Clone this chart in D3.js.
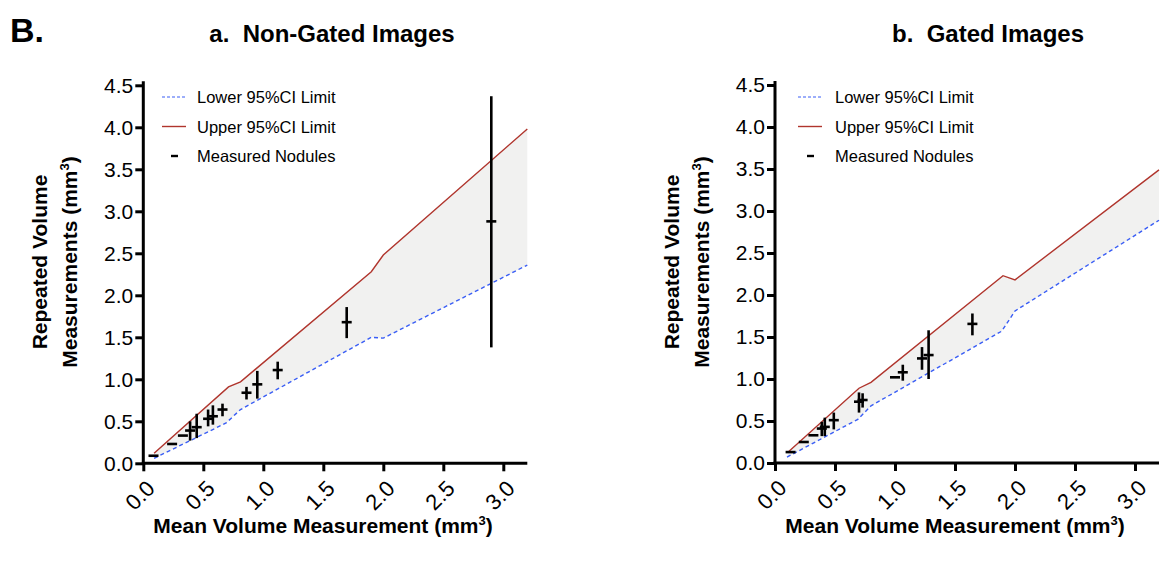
<!DOCTYPE html>
<html>
<head>
<meta charset="utf-8">
<script src="https://cdn.jsdelivr.net/npm/d3@7/dist/d3.min.js"></script>
<style>
  html, body { margin: 0; padding: 0; background: #fff; }
  svg { display: block; }
  text { font-family: "Liberation Sans", Arial, Helvetica, sans-serif; fill: #000; }
</style>
</head>
<body>
<svg id="chart" width="1166" height="561"></svg>
<script>
// ---------- DATA ----------
const xTicks = [0, 0.5, 1.0, 1.5, 2.0, 2.5, 3.0];
const yTicks = [0, 0.5, 1.0, 1.5, 2.0, 2.5, 3.0, 3.5, 4.0, 4.5];

const titleA = "a.  Non-Gated Images";
const titleB = "b.  Gated Images";
const legendLabels = ["Lower 95%CI Limit", "Upper 95%CI Limit", "Measured Nodules"];

// Non-gated: CI limit curves [mean, value]
const upperA = [[0.09, 0.12], [0.71, 0.91], [0.81, 0.97], [1.90, 2.28], [2.00, 2.48], [3.20, 3.98]];
const lowerA = [[0.09, 0.06], [0.69, 0.48], [0.81, 0.64], [1.90, 1.50], [2.00, 1.49], [3.20, 2.36]];
// Non-gated nodules: [mean, repeated value, low, high]
const nodulesA = [
  [0.085, 0.09, 0.09, 0.09],
  [0.24, 0.23, 0.23, 0.23],
  [0.33, 0.33, 0.33, 0.33],
  [0.39, 0.39, 0.27, 0.50],
  [0.445, 0.43, 0.30, 0.59],
  [0.54, 0.53, 0.44, 0.64],
  [0.58, 0.56, 0.46, 0.69],
  [0.66, 0.64, 0.56, 0.71],
  [0.86, 0.84, 0.76, 0.91],
  [0.95, 0.94, 0.77, 1.10],
  [1.12, 1.11, 1.00, 1.21],
  [1.695, 1.68, 1.49, 1.86],
  [2.90, 2.88, 1.38, 4.37]
];

// Gated
const upperB = [[0.11, 0.13], [0.70, 0.89], [0.80, 0.96], [1.90, 2.23], [2.00, 2.18], [3.20, 3.49]];
const lowerB = [[0.10, 0.07], [0.69, 0.52], [0.80, 0.68], [1.89, 1.57], [2.00, 1.81], [3.20, 2.89]];
const nodulesB = [
  [0.13, 0.13, 0.13, 0.13],
  [0.24, 0.25, 0.25, 0.25],
  [0.32, 0.33, 0.33, 0.33],
  [0.39, 0.41, 0.32, 0.49],
  [0.415, 0.43, 0.32, 0.54],
  [0.49, 0.51, 0.40, 0.60],
  [0.70, 0.73, 0.60, 0.84],
  [0.73, 0.75, 0.66, 0.83],
  [1.00, 1.02, 1.02, 1.02],
  [1.065, 1.08, 0.98, 1.17],
  [1.225, 1.245, 1.11, 1.38],
  [1.28, 1.285, 1.00, 1.58],
  [1.645, 1.656, 1.52, 1.78]
];

// ---------- DRAW ----------
const svg = d3.select("#chart");
const fmt = d3.format(".1f");
const upperColor = "#b0352d";
const lowerColor = "#3a5ef5";
const bandColor = "#f1f1f0";

svg.append("text")
  .attr("x", 10).attr("y", 42)
  .attr("font-size", 34).attr("font-weight", "bold")
  .text("B.");

function panel(cfg) {
  const x = d3.scaleLinear().domain([0, 3.2]).range([cfg.x0, cfg.x0 + 384]);
  const y = d3.scaleLinear().domain([0, 4.5]).range([cfg.y0, cfg.y0 - 378]);
  const g = svg.append("g");

  // title
  g.append("text")
    .attr("x", cfg.titleX).attr("y", 42)
    .attr("text-anchor", "middle")
    .attr("font-size", 24).attr("font-weight", "bold")
    .style("white-space", "pre")
    .text(cfg.title);

  // band
  const line = d3.line().x(d => x(d[0])).y(d => y(d[1]));
  const poly = cfg.upper.concat(cfg.lower.slice().reverse());
  g.append("path")
    .attr("d", line(poly) + "Z")
    .attr("fill", bandColor).attr("stroke", "none");

  // CI lines
  g.append("path").attr("d", line(cfg.lower))
    .attr("fill", "none").attr("stroke", lowerColor)
    .attr("stroke-width", 1.4).attr("stroke-dasharray", "4,3");
  g.append("path").attr("d", line(cfg.upper))
    .attr("fill", "none").attr("stroke", upperColor)
    .attr("stroke-width", 1.4);

  // nodules
  const nod = g.append("g").attr("stroke", "#000").attr("stroke-width", 2.6);
  cfg.nodules.forEach(d => {
    nod.append("line")
      .attr("x1", x(d[0]) - 5).attr("x2", x(d[0]) + 5)
      .attr("y1", y(d[1])).attr("y2", y(d[1]));
    if (d[3] > d[2]) {
      nod.append("line")
        .attr("x1", x(d[0])).attr("x2", x(d[0]))
        .attr("y1", y(d[2])).attr("y2", y(d[3]));
    }
  });

  // axes
  const yAxis = d3.axisLeft(y).tickValues(yTicks).tickFormat(fmt).tickSize(8).tickSizeOuter(0).tickPadding(2);
  const yg = g.append("g").attr("transform", `translate(${cfg.x0},0)`).call(yAxis);
  yg.select(".domain").attr("d", `M0,${cfg.y0 + 1.5}V${y(4.5) - 4}`);
  yg.selectAll("path,line").attr("stroke", "#000").attr("stroke-width", 3);
  yg.selectAll("text").attr("font-size", 21).attr("font-family", '"Liberation Sans", Arial, sans-serif').attr("fill", "#000");

  const xAxis = d3.axisBottom(x).tickValues(xTicks).tickFormat(fmt).tickSize(8).tickSizeOuter(0);
  const xg = g.append("g").attr("transform", `translate(0,${cfg.y0})`).call(xAxis);
  xg.select(".domain").attr("d", `M${cfg.x0 - 1.5},0H${x(3.2)}`);
  xg.selectAll("path,line").attr("stroke", "#000").attr("stroke-width", 3);
  xg.selectAll("text")
    .attr("font-size", 22).attr("font-family", '"Liberation Sans", Arial, sans-serif').attr("fill", "#000")
    .attr("text-anchor", "end")
    .attr("dy", "0.35em")
    .attr("y", 0)
    .attr("transform", "translate(7,21) rotate(-45)");

  // axis titles
  const xt = g.append("text")
    .attr("x", cfg.xTitleX).attr("y", 533)
    .attr("text-anchor", "middle")
    .attr("font-size", 21).attr("font-weight", "bold");
  xt.append("tspan").text("Mean Volume Measurement (mm");
  xt.append("tspan").attr("font-size", 13).attr("dy", -8).text("3");
  xt.append("tspan").attr("dy", 8).text(")");

  const yt = g.append("g").attr("transform", `translate(${cfg.x0 - 96},262) rotate(-90)`);
  yt.append("text").attr("x", 0).attr("y", 0)
    .attr("text-anchor", "middle").attr("font-size", 21).attr("font-weight", "bold")
    .text("Repeated Volume");
  const yt2 = yt.append("text").attr("x", 0).attr("y", 30)
    .attr("text-anchor", "middle").attr("font-size", 21).attr("font-weight", "bold");
  yt2.append("tspan").text("Measurements (mm");
  yt2.append("tspan").attr("font-size", 13).attr("dy", -8).text("3");
  yt2.append("tspan").attr("dy", 8).text(")");

  // legend
  const lg = g.append("g");
  const rows = [97, 126.5, 156];
  lg.append("line").attr("x1", cfg.legX).attr("x2", cfg.legX + 24)
    .attr("y1", rows[0]).attr("y2", rows[0])
    .attr("stroke", lowerColor).attr("stroke-width", 1.2).attr("stroke-dasharray", "3,2");
  lg.append("line").attr("x1", cfg.legX).attr("x2", cfg.legX + 24)
    .attr("y1", rows[1]).attr("y2", rows[1])
    .attr("stroke", upperColor).attr("stroke-width", 1.4);
  lg.append("line").attr("x1", cfg.legX + 9).attr("x2", cfg.legX + 16)
    .attr("y1", rows[2]).attr("y2", rows[2])
    .attr("stroke", "#000").attr("stroke-width", 2.4);
  legendLabels.forEach((t, i) => {
    lg.append("text").attr("x", cfg.legText).attr("y", rows[i] + 6)
      .attr("font-size", 16.5).text(t);
  });
}

panel({ x0: 143.3, y0: 463.3, title: titleA, titleX: 332, xTitleX: 323,
        upper: upperA, lower: lowerA, nodules: nodulesA, legX: 162, legText: 197 });
panel({ x0: 775, y0: 463, title: titleB, titleX: 988, xTitleX: 955,
        upper: upperB, lower: lowerB, nodules: nodulesB, legX: 798, legText: 835 });
</script>
</body>
</html>
